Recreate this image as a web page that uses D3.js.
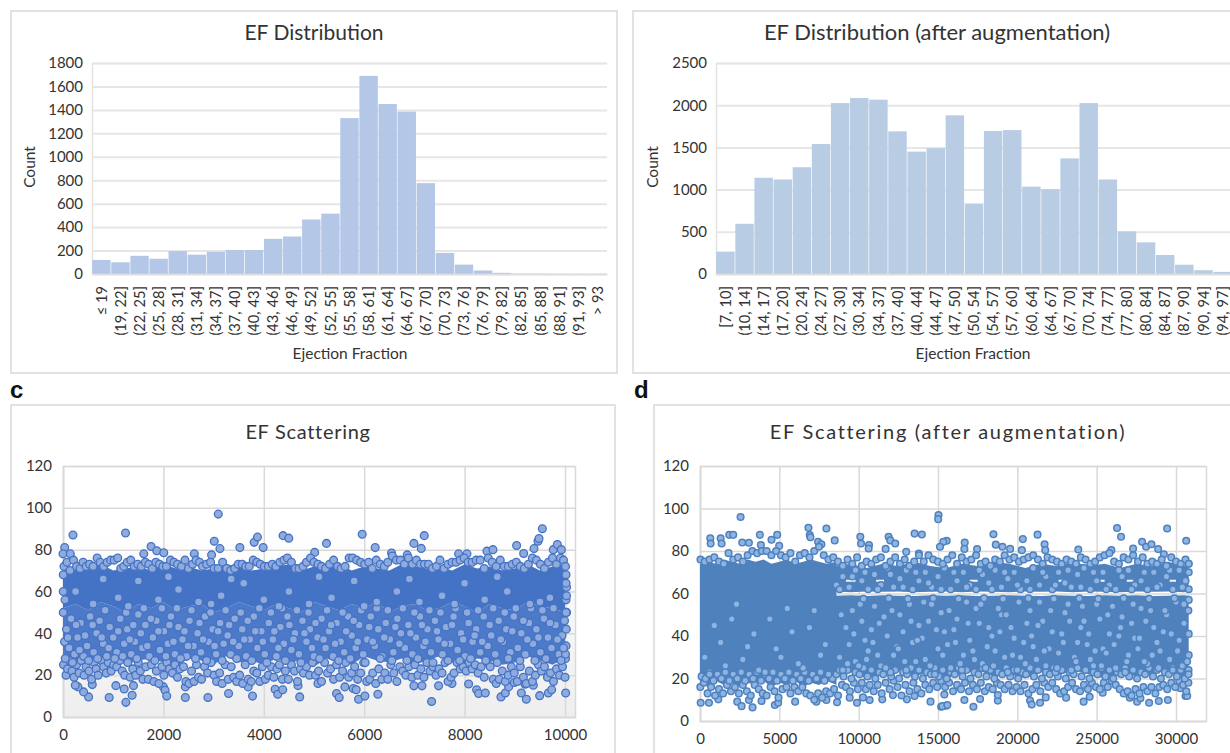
<!DOCTYPE html>
<html>
<head>
<meta charset="utf-8">
<title>EF charts</title>
<script src="https://cdn.jsdelivr.net/npm/d3@7"></script>
<style>
  html, body { margin: 0; padding: 0; background: #fff; overflow: hidden; }
  svg { display: block; }
  text { font-family: Lato, "Liberation Sans", sans-serif; fill: #333; }
  .letter { font-family: "Liberation Sans", Arial, sans-serif; font-weight: bold; font-size: 24px; fill: #111; }
</style>
</head>
<body>
<div id="chart"></div>
<script>
// ---- histograms
var efBins = ["\u2264 19","(19, 22]","(22, 25]","(25, 28]","(28, 31]","(31, 34]","(34, 37]","(37, 40]","(40, 43]","(43, 46]","(46, 49]","(49, 52]","(52, 55]","(55, 58]","(58, 61]","(61, 64]","(64, 67]","(67, 70]","(70, 73]","(73, 76]","(76, 79]","(79, 82]","(82, 85]","(85, 88]","(88, 91]","(91, 93]","> 93"];
var efCounts = [120,100,155,130,195,165,190,205,205,300,320,465,515,1330,1690,1450,1385,775,180,80,30,10,3,2,1,1,1];
var augBins = ["[7, 10]","(10, 14]","(14, 17]","(17, 20]","(20, 24]","(24, 27]","(27, 30]","(30, 34]","(34, 37]","(37, 40]","(40, 44]","(44, 47]","(47, 50]","(50, 54]","(54, 57]","(57, 60]","(60, 64]","(64, 67]","(67, 70]","(70, 74]","(74, 77]","(77, 80]","(80, 84]","(84, 87]","(87, 90]","(90, 94]","(94, 97]"];
var augCounts = [265,595,1140,1120,1265,1540,2025,2085,2065,1690,1450,1490,1880,835,1695,1705,1035,1005,1370,2025,1120,505,375,225,110,45,25];

// ---- scatter c. The core of the cloud overlaps too much to pick out single
// points, so it is a filled band; the rest are
// hand-read or hand-placed points, not the full 10000 samples.
var cBandX = [0,250,500,750,1000,1250,1500,1750,2000,2250,2500,2750,3000,3250,3500,3750,4000,4250,4500,4750,5000,5250,5500,5750,6000,6250,6500,6750,7000,7250,7500,7750,8000,8250,8500,8750,9000,9250,9500,9750,10000];
var cCoreHi = [70,72,71,73,70,71,72,70,73,71,72,70,71,73,72,70,71,72,73,70,72,71,73,70,72,71,70,73,72,71,72,70,73,71,72,70,71,73,70,72,73];
var cCoreLo = [52,54,51,55,53,50,54,52,55,51,53,54,50,52,55,53,51,54,52,50,55,53,51,54,52,55,50,53,54,51,52,55,53,50,54,52,51,55,53,52,50];
var cMidLo = [27,25,28,26,29,25,27,28,26,24,28,27,25,29,26,27,25,28,26,27,24,28,26,25,29,27,26,28,25,27,29,26,24,28,27,25,26,29,27,25,28];
var cOutliers = [[199,87],[33,81],[0,78],[146,78],[1245,88],[3093,97],[3013,84],[3126,80.5],[1755,81.5],[1868,79.5],[2007,78.5],[1609,78],[2616,78],[2960,77.5],[3523,81],[3808,83.5],[3874,86],[3987,81],[4384,86.7],[4497,85.5],[5013,78.7],[5249,83],[5960,87.4],[6219,81],[6990,83],[7136,80.6],[7196,86.7],[6545,78.4],[6857,77.5],[7880,78],[8047,78],[8445,79.3],[8565,80],[9036,82],[9176,78.2],[9382,80.5],[9462,84],[9482,85.3],[9548,90],[9767,80],[9847,82.5],[9927,80],
 [1252,7],[920,9.3],[1053,15],[1219,13.4],[1377,10.4],[510,9.6],[410,12],[298,14.4],[245,15.2],[583,15.5],[1404,15],[2000,14.4],[2033,12.8],[2066,10],[2437,14.4],[2437,9.3],[2887,9.3],[3298,11.2],[3775,10],[3689,14.4],[4225,13.3],[4278,10.9],[4377,13],[4715,9.6],[4682,15],[5079,16],[5449,11.2],[5502,9.3],[5615,14.4],[5781,13.6],[5840,13],[5887,8.5],[6013,10],[6272,10.9],[6990,14.9],[7150,14.9],[7482,14.9],[7342,7.4],[7748,16],[8080,15.8],[8239,13],[8279,11.2],[8412,11.5],[8724,9.6],[8811,11.5],[8877,14.4],[8990,16.5],[9130,11.5],[9229,8.5],[9495,10.2],[9668,11.5],[9734,13],[10013,11.5],[9369,15.2],[9203,15.7]];
var cLowEdge = [[10,25],[60,20],[90,23],[130,27],[180,22],[220,19],[270,25],[320,21],[360,27],[420,20],[460,24],[520,22],[570,18],[620,26],[660,23],[700,20],[760,27],[810,24],[860,21],[900,26],[960,22],[1010,25],[1070,24],[1130,27],[1180,22],[1230,20],[1290,26],[1340,19],[1390,23],[1450,20],[1500,26],[1540,22],[1590,18],[1650,24],[1700,18],[1760,25],[1810,17],[1860,22],[1910,16],[1970,24],[2010,20],[2070,26],[2120,23],[2180,21],[2230,25],[2280,19],[2330,23],[2400,24],[2450,17],[2510,16],[2560,22],[2610,17],[2660,25],[2700,19],[2760,18],[2820,24],[2880,21],[2950,26],[3010,20],[3060,17],[3120,21],[3170,16],[3230,25],[3290,18],[3350,24],[3400,19],[3460,17],[3520,20],[3580,16],[3630,25],[3690,18],[3750,17],[3800,22],[3860,21],[3920,17],[3970,24],[4030,18],[4090,20],[4150,24],[4200,19],[4260,23],[4310,25],[4370,18],[4430,22],[4490,18],[4550,25],[4610,22],[4670,17],[4730,23],[4790,21],[4850,24],[4910,20],[4970,26],[5030,20],[5090,22],[5150,17],[5210,26],[5270,21],[5330,23],[5390,18],[5450,25],[5510,19],[5570,22],[5630,26],[5690,19],[5750,21],[5810,24],[5870,18],[5930,21],[5990,26],[6050,17],[6110,18],[6170,21],[6230,16],[6290,23],[6350,18],[6410,21],[6470,18],[6530,25],[6590,21],[6650,17],[6710,24],[6770,22],[6830,20],[6890,24],[6950,19],[7010,25],[7070,20],[7130,23],[7190,19],[7250,26],[7310,22],[7370,24],[7430,20],[7490,23],[7550,21],[7610,26],[7670,17],[7730,19],[7790,21],[7850,26],[7910,23],[7970,24],[8030,22],[8090,26],[8150,23],[8210,25],[8270,21],[8330,24],[8390,19],[8450,26],[8510,24],[8570,18],[8630,16],[8690,18],[8750,22],[8810,17],[8870,20],[8930,24],[8990,21],[9050,17],[9110,24],[9170,19],[9230,16],[9290,22],[9350,17],[9410,20],[9470,25],[9530,22],[9590,24],[9650,19],[9710,21],[9770,17],[9830,23],[9890,20],[9950,24],[10000,19],[10010,28]];
var cMid = [[30,36],[70,42],[120,33],[160,47],[230,30],[290,38],[350,45],[410,29],[480,34],[540,48],[610,31],[670,40],[730,46],[800,35],[870,29],[930,43],[1000,38],[1070,31],[1140,47],[1220,35],[1280,42],[1360,30],[1430,36],[1500,49],[1580,33],[1640,44],[1720,29],[1790,38],[1860,46],[1930,32],[2010,41],[2090,35],[2150,48],[2230,30],[2300,43],[2380,37],[2460,29],[2520,46],[2600,34],[2680,40],[2750,31],[2830,48],[2900,36],[2980,42],[3050,30],[3130,45],[3200,35],[3280,39],[3340,30],[3420,47],[3500,34],[3570,42],[3650,29],[3720,37],[3800,48],[3870,33],[3950,41],[4020,30],[4100,45],[4180,37],[4250,29],[4330,43],[4400,35],[4470,48],[4550,32],[4620,40],[4700,30],[4770,46],[4850,36],[4920,42],[5000,29],[5070,38],[5150,47],[5230,33],[5300,41],[5380,29],[5450,45],[5530,36],[5600,31],[5680,48],[5750,39],[5830,33],[5900,44],[5980,30],[6060,37],[6130,48],[6210,34],[6280,42],[6360,29],[6430,45],[6510,37],[6580,31],[6660,47],[6730,40],[6810,33],[6880,44],[6960,30],[7030,38],[7110,48],[7180,34],[7260,42],[7330,31],[7410,46],[7480,37],[7560,30],[7630,43],[7710,35],[7780,48],[7860,32],[7930,40],[8010,29],[8080,45],[8160,36],[8230,42],[8310,31],[8380,48],[8460,34],[8530,39],[8610,30],[8680,46],[8760,36],[8830,42],[8910,31],[8980,48],[9060,33],[9130,40],[9210,30],[9280,45],[9360,35],[9430,42],[9510,31],[9580,47],[9660,38],[9730,33],[9810,44],[9880,30],[9940,39],[9990,46],[10020,34],[10030,50],[10025,42],[10010,30],[10020,56],[10030,62],[10020,68]];
var cMid2 = [[45,28],[100,38],[190,26],[260,44],[330,32],[440,39],[510,27],[590,44],[690,28],[770,38],[840,51],[910,33],[1030,28],[1100,41],[1190,29],[1260,50],[1330,37],[1400,44],[1470,28],[1550,40],[1610,52],[1680,34],[1750,47],[1830,27],[1900,41],[1970,52],[2050,29],[2120,44],[2200,36],[2270,52],[2340,28],[2420,41],[2490,34],[2560,51],[2640,28],[2720,45],[2790,37],[2860,27],[2940,50],[3020,34],[3090,41],[3170,27],[3240,51],[3310,44],[3390,36],[3460,28],[3540,50],[3610,37],[3680,46],[3760,27],[3830,41],[3910,52],[3980,36],[4060,26],[4140,50],[4210,41],[4290,33],[4360,52],[4430,27],[4510,44],[4590,37],[4660,51],[4740,26],[4810,40],[4890,50],[4960,33],[5030,45],[5110,28],[5190,37],[5260,51],[5340,44],[5420,35],[5490,27],[5570,50],[5640,41],[5720,28],[5790,46],[5870,36],[5940,51],[6020,26],[6100,43],[6170,36],[6250,52],[6320,28],[6400,38],[6470,51],[6550,27],[6620,43],[6700,35],[6770,52],[6850,27],[6920,40],[7000,50],[7070,28],[7150,44],[7220,36],[7300,51],[7370,26],[7450,41],[7520,50],[7600,35],[7670,27],[7750,44],[7820,52],[7900,27],[7970,37],[8050,50],[8120,28],[8200,39],[8270,51],[8350,36],[8420,27],[8500,44],[8570,52],[8650,26],[8720,37],[8800,50],[8870,28],[8950,41],[9020,52],[9100,27],[9170,46],[9250,37],[9320,52],[9400,27],[9470,38],[9550,51],[9620,28],[9700,45],[9770,52],[9850,37],[9920,27],[9970,33]];
var cCoreSpecks = [[40,56],[250,60],[600,54],[1100,57],[1500,65],[1900,56],[2300,61],[2700,55],[3150,58],[3600,64],[4000,56],[4500,60],[4900,54],[5350,57],[5800,65],[6250,55],[6650,60],[7100,55],[7550,58],[8000,64],[8400,56],[8850,60],[9300,54],[9700,57],[10020,50],[10030,58],[10020,64],[800,66],[1300,53],[2100,67],[2950,54],[3350,66],[4300,53],[5100,67],[6000,53],[6900,66],[7800,54],[8650,67],[9500,55],[5,50],[5,60],[5,68]];
var cTop = [[20,72],[80,74],[140,70],[210,75],[270,72],[340,71],[400,74],[460,72],[530,73],[600,72],[680,76],[740,74],[810,72],[880,74],[950,75],[1020,75],[1090,76],[1150,71],[1210,72],[1280,74],[1350,75],[1420,72],[1490,73],[1560,72],[1640,74],[1710,73],[1780,71],[1850,74],[1920,73],[1990,72],[2060,72],[2140,75],[2210,74],[2280,73],[2360,72],[2430,75],[2500,71],[2580,73],[2650,75],[2720,74],[2780,72],[2860,73],[2940,74],[3010,71],[3090,71],[3180,74],[3260,71],[3340,70],[3420,71],[3490,73],[3570,73],[3640,72],[3710,72],[3790,75],[3860,74],[3930,73],[4010,72],[4090,72],[4170,73],[4240,72],[4320,74],[4400,75],[4470,76],[4550,74],[4630,71],[4700,71],[4780,72],[4850,74],[4930,76],[5000,74],[5080,73],[5150,72],[5230,71],[5310,73],[5390,75],[5470,72],[5540,71],[5620,72],[5700,76],[5770,76],[5850,75],[5930,74],[6010,73],[6090,74],[6160,71],[6240,75],[6320,73],[6400,72],[6470,74],[6560,77],[6640,75],[6720,75],[6800,73],[6880,76],[6960,73],[7040,75],[7120,73],[7200,73],[7280,73],[7360,71],[7440,72],[7510,75],[7590,71],[7670,73],[7750,74],[7830,74],[7910,75],[7990,76],[8070,74],[8150,74],[8230,75],[8310,75],[8390,71],[8470,76],[8550,74],[8630,72],[8710,75],[8790,72],[8870,72],[8950,73],[9030,74],[9110,72],[9190,71],[9270,73],[9350,76],[9430,75],[9510,73],[9590,71],[9670,74],[9750,76],[9830,73],[9910,76],[9970,75],[10010,72]];

// ---- scatter d, same idea: bands for the solid parts, listed points for the rest
var dBandX = [0,500,1000,1500,2000,2500,3000,3500,4000,4500,5000,5500,6000,6500,7000,7500,8000,8600];
var dSolidHi = [74,75,74,76,75,74,76,75,76,74,75,76,74,75,76,75,74,75];
var dSolidLo = [18,16,19,17,18,16,18,17,19,16,18,17,19,16,18,17,19,17];
var dRightX = [8500,9500,10500,11500,12500,13500,14500,15500,16500,17500,18500,19500,20500,21500,22500,23500,24500,25500,26500,27500,28500,29500,30500,30800];
var dUpperHi = [73,74,72,74,73,75,73,72,74,73,75,74,72,74,73,75,73,74,72,74,73,75,73,74];
var dUpperLo = [61,60.6,61,60.8,61,60.6,60.8,61,60.6,61,60.8,60.6,61,60.8,61,60.6,61,60.8,60.6,61,60.8,61,60.6,61];
var dLowerHi = [59,59.2,58.8,59.2,59,58.8,59.2,59,59.2,58.8,59,59.2,59,58.8,59.2,59,58.8,59.2,59,59.2,58.8,59,59.2,59];
var dLowerLo = [21,23,20,22,24,21,23,20,22,24,21,22,20,23,21,24,22,20,23,21,22,24,20,22];
var dHoleStart = [9200,11100,17000,22600,25000,26900,29600];
var dHoleEnd = [9800,11600,17500,23100,25500,27300,30000];
var dHoleY = [66,66,66,66,66,66,66];
var dOutliers = [[2558,96],[650,86],[670,83.5],[1300,86],[1363,83.5],[1845,87.6],[2096,87.6],[2662,84],[3082,83.9],[3774,87.6],[3836,82.8],[4507,85.3],[4864,87.6],[4990,82.4],[6834,90.9],[6918,87.5],[6960,86.5],[7966,90.6],[8490,85],[7442,84.3],[7652,83.2],[10105,86.7],[10147,83.5],[10650,82.8],[10629,81.2],[11887,86.7],[11992,85],[11698,81],[12306,83.5],[12998,79.6],[13522,88.2],[13983,87.8],[13795,78.8],[15031,96.9],[15010,95],[15547,84.8],[15337,84.3],[15126,82],[16684,84],[16663,81],[17463,80.9],[18495,87.9],[18642,83],[19063,82],[19547,81],[20347,85.6],[20284,80.4],[21274,87.7],[21716,83.2],[21758,80.4],[23842,80.7],[25926,80.4],[26284,90.8],[26537,86.7],[27295,81.2],[27863,84.3],[28116,82],[28453,83.2],[28874,80.9],[29232,78.5],[29442,90.6],[30642,84.8],
 [42,8.6],[566,8.6],[1153,10.2],[2348,9.1],[2620,7],[3082,9.9],[3312,6.4],[3878,9.4],[4717,7.5],[4927,8.6],[5996,9.1],[7337,9.1],[7966,9.9],[8637,8.8],[9434,11],[9895,8.6],[10272,11.1],[10692,9.9],[11488,10.2],[12159,12.2],[13040,10.2],[13522,11.8],[14528,9.1],[15199,6.7],[15513,7.2],[15274,7],[15589,7.5],[15400,12.5],[16663,9.9],[17232,6.7],[17653,10.3],[18768,9.6],[18768,12.2],[20800,9.6],[20905,7.8],[21432,8.6],[21789,11.1],[23074,11],[24178,9.1],[24558,11.4],[25379,13.3],[27084,11],[27547,9.1],[27758,10.7],[28305,8.6],[28916,9.4],[29484,9.9],[30600,11.8],[30705,11.8],[30284,15.4]];
var dLowEdge = [[20,16],[250,18],[480,13],[700,16],[950,12],[1200,15],[1450,13],[1700,17],[1950,14],[2200,16],[2450,13],[2700,17],[2950,14],[3200,12],[3450,17],[3700,15],[3950,13],[4200,12],[4450,16],[4700,14],[4950,11],[5200,15],[5450,16],[5700,13],[5950,16],[6200,14],[6450,16],[6700,13],[6950,12],[7200,10],[7450,13],[7700,11],[7950,14],[8200,13],[8450,15],[8700,12],[8950,17],[9200,16],[9450,14],[9700,18],[9950,15],[10200,18],[10450,15],[10700,17],[10950,14],[11200,17],[11450,13],[11700,18],[11950,15],[12200,19],[12450,16],[12700,12],[12950,17],[13200,14],[13450,18],[13700,15],[13950,13],[14200,17],[14450,15],[14700,18],[14950,16],[15200,19],[15450,16],[15700,18],[15950,14],[16200,17],[16450,15],[16700,18],[16950,14],[17200,17],[17450,15],[17700,18],[17950,14],[18200,16],[18450,15],[18700,18],[18950,17],[19200,15],[19450,17],[19700,14],[19950,16],[20200,14],[20450,17],[20700,13],[20950,15],[21200,17],[21450,14],[21700,18],[21950,16],[22200,18],[22450,15],[22700,13],[22950,14],[23200,16],[23450,18],[23700,15],[23950,14],[24200,17],[24450,15],[24700,18],[24950,16],[25200,15],[25450,18],[25700,16],[25950,19],[26200,17],[26450,15],[26700,13],[26950,14],[27200,12],[27450,15],[27700,13],[27950,16],[28200,14],[28450,16],[28700,13],[28950,16],[29200,17],[29450,15],[29700,18],[29950,16],[30200,19],[30450,17],[30650,14],[30780,18]];
var dLowRim = [[100,21],[350,20],[600,23],[850,19],[1100,22],[1350,20],[1600,23],[1850,19],[2100,22],[2350,20],[2600,23],[2850,19],[3100,22],[3350,20],[3600,23],[3850,19],[4100,22],[4350,20],[4600,23],[4850,19],[5100,22],[5350,20],[5600,23],[5850,19],[6100,22],[6350,20],[6600,23],[6850,19],[7100,22],[7350,20],[7600,23],[7850,19],[8100,22],[8350,20],[8600,22],[8800,24],[9050,21],[9300,24],[9550,20],[9800,23],[10050,22],[10300,25],[10550,21],[10800,24],[11050,20],[11300,23],[11550,22],[11800,25],[12050,21],[12300,24],[12550,20],[12800,23],[13050,22],[13300,25],[13550,21],[13800,24],[14050,20],[14300,23],[14550,22],[14800,25],[15050,21],[15300,24],[15550,20],[15800,23],[16050,22],[16300,25],[16550,21],[16800,24],[17050,20],[17300,23],[17550,22],[17800,25],[18050,21],[18300,24],[18550,20],[18800,23],[19050,22],[19300,25],[19550,21],[19800,24],[20050,20],[20300,23],[20550,22],[20800,25],[21050,21],[21300,24],[21550,20],[21800,23],[22050,22],[22300,25],[22550,21],[22800,24],[23050,20],[23300,23],[23550,22],[23800,25],[24050,21],[24300,24],[24550,20],[24800,23],[25050,22],[25300,25],[25550,21],[25800,24],[26050,20],[26300,23],[26550,22],[26800,25],[27050,21],[27300,24],[27550,20],[27800,23],[28050,22],[28300,25],[28550,21],[28800,24],[29050,20],[29300,23],[29550,22],[29800,25],[30050,21],[30300,24],[30550,20],[30790,24]];
var dMid = [[9000,24],[9400,36],[9800,28],[10200,47],[10600,33],[11000,54],[11400,26],[11800,40],[12200,31],[12600,50],[13000,24],[13400,37],[13800,45],[14200,29],[14600,55],[15000,34],[15400,42],[15800,25],[16200,48],[16600,31],[17000,38],[17400,53],[17800,27],[18200,44],[18600,33],[19000,50],[19400,23],[19800,39],[20200,30],[20600,46],[21000,35],[21400,56],[21800,26],[22200,42],[22600,32],[23000,51],[23400,24],[23800,37],[24200,47],[24600,29],[25000,55],[25400,34],[25800,41],[26200,25],[26600,49],[27000,31],[27400,39],[27800,53],[28200,27],[28600,44],[29000,33],[29400,50],[29800,24],[30200,38],[30500,46],[30800,31],[30790,22],[30800,41],[30780,52],[30800,57],[8800,30],[9200,44],[9600,52],[10000,26],[10400,38],[10800,43],[11200,31],[11600,49],[12000,23],[12400,35],[12800,42],[13200,55],[13600,28],[14000,39],[14400,47],[14800,22],[15200,51],[15600,36],[16000,43],[16400,27],[16800,56],[17200,33],[17600,46],[18000,25],[18400,40],[18800,53],[19200,30],[19600,44],[20000,24],[20400,37],[20800,52],[21200,29],[21600,47],[22000,34],[22400,23],[22800,41],[23200,55],[23600,30],[24000,44],[24400,36],[24800,26],[25200,48],[25600,32],[26000,54],[26400,40],[26800,23],[27200,46],[27600,34],[28000,28],[28400,52],[28800,37],[29200,42],[29600,29],[30000,56],[30400,26],[300,30],[900,45],[1600,26],[2300,55],[3000,35],[3700,24],[4400,48],[5100,30],[5800,42],[6500,25],[7200,52],[7900,36],[600,22],[1300,37],[2000,48],[2700,29],[3400,41],[4100,23],[4800,34],[5500,53],[6200,27],[6900,44],[7600,31],[8100,22]];
var dMid2 = [[8900,50],[9300,27],[9700,41],[10100,55],[10500,29],[10900,37],[11300,46],[11700,25],[12100,52],[12500,34],[12900,28],[13300,47],[13700,38],[14100,56],[14500,26],[14900,43],[15300,31],[15700,52],[16100,37],[16500,24],[16900,46],[17300,29],[17700,55],[18100,35],[18500,26],[18900,42],[19300,50],[19700,31],[20100,56],[20500,27],[20900,40],[21300,45],[21700,33],[22100,52],[22500,25],[22900,37],[23300,47],[23700,28],[24100,54],[24500,41],[24900,33],[25300,26],[25700,50],[26100,36],[26500,44],[26900,28],[27300,55],[27700,39],[28100,47],[28500,31],[28900,25],[29300,52],[29700,41],[30100,33],[30500,55],[30700,28],[10300,57.5],[11900,57.8],[13100,57.5],[14700,57.8],[16300,57.5],[17900,57.8],[19100,57.5],[20700,57.8],[22300,57.5],[23900,57.8],[25100,57.5],[26700,57.8],[28300,57.5],[29900,57.8]];
var dUpper = [[8600,64],[9000,68],[9400,63],[9800,71],[10200,66],[10600,62],[11000,69],[11400,64],[11800,72],[12200,63],[12600,67],[13000,71],[13400,62],[13800,66],[14200,70],[14600,63],[15000,68],[15400,72],[15800,62],[16200,66],[16600,70],[17000,64],[17400,62],[17800,69],[18200,65],[18600,71],[19000,63],[19400,67],[19800,70],[20200,62],[20600,66],[21000,72],[21400,64],[21800,68],[22200,62],[22600,70],[23000,65],[23400,63],[23800,69],[24200,72],[24600,62],[25000,66],[25400,70],[25800,64],[26200,62],[26600,68],[27000,71],[27400,64],[27800,66],[28200,62],[28600,70],[29000,64],[29400,68],[29800,62],[30200,71],[30600,66],[30800,62],[30800,70],[30790,74],[8800,62],[9600,68],[10400,70],[11200,62],[12000,69],[12800,63],[13600,70],[14400,65],[15200,62],[16000,70],[16800,63],[17600,71],[18400,62],[19200,70],[20000,64],[20800,62],[21600,70],[22400,64],[23200,71],[24000,63],[24800,70],[25600,62],[26400,71],[27200,62],[28000,70],[28800,63],[29600,71],[30400,63]];
var dTop = [[30,76],[300,75],[600,76],[900,77],[1200,75],[1500,74],[1800,79],[2100,76],[2400,77],[2700,75],[3000,78],[3300,80],[3600,79],[3900,80],[4200,80],[4500,78],[4800,80],[5100,78],[5400,77],[5700,79],[6000,75],[6300,78],[6600,79],[6900,77],[7200,80],[7500,82],[7800,78],[8100,76],[8400,77],[8700,75],[9000,73],[9300,76],[9600,74],[9900,77],[10200,73],[10500,75],[10800,74],[11100,76],[11400,77],[11700,73],[12000,75],[12300,77],[12600,74],[12900,76],[13200,73],[13500,75],[13800,78],[14100,75],[14400,78],[14700,76],[15000,75],[15300,74],[15600,76],[15900,78],[16200,74],[16500,77],[16800,75],[17100,76],[17400,78],[17700,74],[18000,75],[18300,73],[18600,76],[18900,75],[19200,78],[19500,76],[19800,77],[20100,75],[20400,76],[20700,77],[21000,78],[21300,76],[21600,74],[21900,77],[22200,76],[22500,75],[22800,74],[23100,76],[23400,75],[23700,74],[24000,77],[24300,76],[24600,74],[24900,75],[25200,77],[25500,78],[25800,79],[26100,75],[26400,74],[26700,77],[27000,76],[27300,78],[27600,75],[27900,77],[28200,74],[28500,75],[28800,74],[29100,76],[29400,73],[29700,77],[30000,75],[30300,74],[30600,76],[30800,74]];

var fontBody = "Lato";
var svg = d3.select("#chart").append("svg").attr("width", 1230).attr("height", 753);

function card(x, y, w, h) {
    svg.append("rect").attr("x", x).attr("y", y).attr("width", w).attr("height", h)
        .attr("fill", "#fff").attr("stroke", "#d9d9d9").attr("stroke-width", 1.5);
}

function label(txt, x, y, size, rot, spacing) {
    var t = svg.append("text").attr("text-anchor", "middle")
        .attr("transform", "translate(" + x + "," + y + ")" + (rot ? " rotate(" + rot + ")" : ""))
        .style("font-size", size + "px").text(txt);
    if (spacing) t.style("letter-spacing", spacing + "px");
}

function histogram(o) {
    card(o.cardX, 11, o.cardW, 362);
    label(o.title, o.titleX, 40, o.titleSize);
    var x = d3.scaleBand().domain(o.bins).range([o.left, o.right]).paddingInner(0.035).paddingOuter(0.01);
    var y = d3.scaleLinear().domain([0, o.max]).range([274, 63]);
    var g = svg.append("g");

    var yAxis = g.append("g").attr("transform", "translate(" + o.left + ",0)")
        .call(d3.axisLeft(y).tickValues(o.ticks).tickFormat(d3.format("d")).tickSize(-(o.right - o.left)).tickPadding(9));
    yAxis.select(".domain").attr("stroke", "#e3e3e3").attr("stroke-width", 1.5);
    yAxis.selectAll("line").attr("stroke", "#e6e6e6").attr("stroke-width", 2);
    yAxis.selectAll("text").style("font-size", "15px").style("font-family", fontBody).style("fill", "#333");

    g.selectAll("rect.bar").data(o.bins).enter().append("rect").attr("class", "bar")
        .attr("x", function(d) { return x(d); })
        .attr("width", x.bandwidth())
        .attr("y", function(d, i) { return y(o.counts[i]); })
        .attr("height", function(d, i) { return 274 - y(o.counts[i]); })
        .attr("fill", o.color);

    var xAxis = g.append("g").attr("transform", "translate(0,274)")
        .call(d3.axisBottom(x).tickSize(0));
    xAxis.select(".domain").attr("stroke", "#e0e0e0").attr("stroke-width", 1.5);
    xAxis.selectAll("text")
        .attr("transform", "rotate(-90)")
        .attr("text-anchor", "end").attr("x", -12).attr("y", 0).attr("dy", "0.35em")
        .style("font-size", "14.7px").style("font-family", fontBody).style("fill", "#333");

    label("Ejection Fraction", o.xTitleX, 359, 15.5);
    label("Count", o.yTitleX, 167, 15.5, -90);
}

function scatter(o) {
    card(o.cardX, 405, o.cardW, 400);
    label(o.title, o.titleX, 439, 20, 0, o.spacing);
    var x = d3.scaleLinear().domain(o.xDomain).range([o.left, o.right]);
    var y = d3.scaleLinear().domain([0, 120]).range([o.bottom, 466]);
    var g = svg.append("g");

    if (o.shade) {
        var grad = svg.append("defs").append("linearGradient").attr("id", o.shade)
            .attr("x1", 0).attr("x2", 0).attr("y1", 0).attr("y2", 1);
        grad.append("stop").attr("offset", "0").attr("stop-color", "#fff");
        grad.append("stop").attr("offset", "1").attr("stop-color", "#eeeeee");
        g.append("rect").attr("x", o.left).attr("width", o.right - o.left)
            .attr("y", y(90)).attr("height", y(0) - y(90)).attr("fill", "url(#" + o.shade + ")");
    }

    var yAxis = g.append("g").attr("transform", "translate(" + o.left + ",0)")
        .call(d3.axisLeft(y).tickValues([0,20,40,60,80,100,120]).tickSize(-(o.right - o.left)).tickPadding(11));
    var xAxis = g.append("g").attr("transform", "translate(0," + o.bottom + ")")
        .call(d3.axisBottom(x).tickValues(o.xTicks).tickFormat(d3.format("d")).tickSize(-(o.bottom - 466)).tickPadding(o.xPad));
    [yAxis, xAxis].forEach(function(a) {
        a.select(".domain").attr("stroke", "#d9d9d9").attr("stroke-width", 1.5);
        a.selectAll("line").attr("stroke", "#d9d9d9").attr("stroke-width", 1.5);
        a.selectAll("text").style("font-size", "15px").style("font-family", fontBody).style("fill", "#333");
    });

    o.bands.forEach(function(b) {
        var area = d3.area()
            .curve(d3.curveLinear)
            .x(function(d, i) { return x(b.xs[i]); })
            .y0(function(d, i) { return y(b.lo[i]); })
            .y1(function(d, i) { return y(b.hi[i]); });
        g.append("path").attr("d", area(b.xs)).attr("fill", b.color);
    });

    if (o.holes) {
        g.selectAll("line.hole").data(o.holes.start).enter().append("line").attr("class", "hole")
            .attr("x1", function(d) { return x(d); })
            .attr("x2", function(d, i) { return x(o.holes.end[i]); })
            .attr("y1", function(d, i) { return y(o.holes.y[i]); })
            .attr("y2", function(d, i) { return y(o.holes.y[i]); })
            .attr("stroke", "#f4f4f4").attr("stroke-width", 2);
    }

    g.selectAll("circle").data(o.points).enter().append("circle")
        .attr("cx", function(d) { return x(d[0]); })
        .attr("cy", function(d) { return y(d[1]); })
        .attr("r", o.r)
        .attr("fill", o.fill).attr("stroke", o.stroke).attr("stroke-width", o.sw);
}

histogram({ cardX: 11, cardW: 606, title: "EF Distribution", titleX: 314, titleSize: 21, bins: efBins, counts: efCounts,
    max: 1800, ticks: [0,200,400,600,800,1000,1200,1400,1600,1800], left: 92, right: 607, color: "#b4c7e7",
    xTitleX: 350, yTitleX: 35 });
histogram({ cardX: 633, cardW: 620, title: "EF Distribution (after augmentation)", titleX: 937, titleSize: 22, bins: augBins, counts: augCounts,
    max: 2500, ticks: [0,500,1000,1500,2000,2500], left: 716, right: 1232, color: "#b8cce4",
    xTitleX: 973, yTitleX: 658 });

scatter({ cardX: 11, cardW: 604, title: "EF Scattering", titleX: 308, spacing: 0.7,
    xDomain: [0, 10199], xTicks: [0,2000,4000,6000,8000,10000], left: 63, right: 575, bottom: 717, xPad: 12, shade: "shadeC",
    bands: [
        { xs: cBandX, lo: cMidLo, hi: cCoreLo, color: "#4d7ac8" },
        { xs: cBandX, lo: cCoreLo, hi: cCoreHi, color: "#4472c4" }
    ],
    points: cOutliers.concat(cLowEdge, cMid, cMid2, cCoreSpecks, cTop), r: 3.9, fill: "#8faadc", stroke: "#4472c4", sw: 1.3 });

scatter({ cardX: 654, cardW: 600, title: "EF Scattering (after augmentation)", titleX: 948, spacing: 1.7,
    xDomain: [0, 31890], xTicks: [0,5000,10000,15000,20000,25000,30000], left: 700, right: 1206, bottom: 721, xPad: 12,
    bands: [
        { xs: dBandX, lo: dSolidLo, hi: dSolidHi, color: "#4f81bd" },
        { xs: dRightX, lo: dUpperLo, hi: dUpperHi, color: "#4f81bd" },
        { xs: dRightX, lo: dLowerLo, hi: dLowerHi, color: "#4f81bd" }
    ],
    holes: { start: dHoleStart, end: dHoleEnd, y: dHoleY },
    points: dOutliers.concat(dLowEdge, dLowRim, dMid, dMid2, dUpper, dTop), r: 3.3, fill: "#8db4e2", stroke: "#4f81bd", sw: 1.5 });

svg.append("text").attr("class", "letter").attr("x", 10).attr("y", 398).text("c");
svg.append("text").attr("class", "letter").attr("x", 634).attr("y", 398).text("d");
</script>
</body>
</html>
